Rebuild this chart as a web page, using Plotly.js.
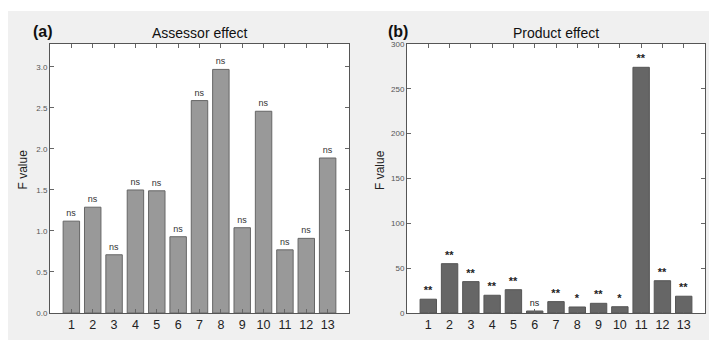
<!DOCTYPE html>
<html><head><meta charset="utf-8">
<script src="https://cdn.plot.ly/plotly-3.0.1.min.js"></script>
<style>html,body{margin:0;padding:0;background:#fff}</style>
</head><body><div id="chart" style="width:709px;height:340px"></div>
<script>
const products = [1,2,3,4,5,6,7,8,9,10,11,12,13];
const tickLabels = ['1','2','3','4','5','6','7','8','9','10','11','12','13'];
const assessorF = [1.12,1.29,0.71,1.50,1.49,0.93,2.59,2.97,1.04,2.46,0.77,0.91,1.89];
const assessorSig = ['ns','ns','ns','ns','ns','ns','ns','ns','ns','ns','ns','ns','ns'];
const productF = [15.4,55,35,19.8,26,2.2,12.7,6.7,10.8,7,274,36,18.7];
const productSig = ['**','**','**','**','**','ns','**','*','**','*','**','**','**'];

const W = 709, H = 340;
const FONT = 'Liberation Sans, Arial, sans-serif';
const px = v => v / W;
const py = v => (H - v) / H;

const productText = productSig.map(s => s === 'ns' ? s : '<b>' + s + '</b>');
const productTextSize = productSig.map(s => s === 'ns' ? 9 : 11);

const traces = [
  {type:'bar', x:products, y:assessorF, text:assessorSig, textposition:'outside',
   textfont:{size:9,color:'#333',family:FONT}, constraintext:'none', cliponaxis:false,
   width:0.77, marker:{color:'#999999', line:{color:'#666666', width:1}},
   xaxis:'x', yaxis:'y', hoverinfo:'skip'},
  {type:'bar', x:products, y:productF, text:productText, textposition:'outside',
   textfont:{size:productTextSize,color:'#222',family:FONT}, constraintext:'none', cliponaxis:false,
   width:0.77, marker:{color:'#666666', line:{color:'#555555', width:1}},
   xaxis:'x2', yaxis:'y2', hoverinfo:'skip'}
];

const xBase = {range:[0,14], tickmode:'array', tickvals:products, ticktext:tickLabels,
  ticks:'inside', ticklen:4, tickcolor:'#666', showline:true, linecolor:'#555', linewidth:1,
  mirror:'ticks', showgrid:false, zeroline:false, fixedrange:true,
  tickfont:{size:12.5,color:'#222',family:FONT}};
const yBase = {ticks:'inside', ticklen:4, tickcolor:'#666', showline:true, linecolor:'#555', linewidth:1,
  mirror:'ticks', showgrid:false, zeroline:false, fixedrange:true,
  tickfont:{size:8,color:'#555',family:FONT}, domain:[py(313), py(44)]};

const layout = {
  width:W, height:H, margin:{l:0,r:0,t:0,b:0},
  paper_bgcolor:'#f0f0f0', plot_bgcolor:'#ffffff', showlegend:false,
  font:{family:FONT},
  xaxis:Object.assign({}, xBase, {domain:[px(50), px(349)], anchor:'y'}),
  yaxis:Object.assign({}, yBase, {range:[0,3.28], dtick:0.5, tickformat:'.1f', anchor:'x'}),
  xaxis2:Object.assign({}, xBase, {domain:[px(407), px(705)], anchor:'y2'}),
  yaxis2:Object.assign({}, yBase, {range:[0,300], dtick:50, anchor:'x2'}),
  shapes:[
    {type:'rect', xref:'paper', yref:'paper', x0:0, x1:1, y0:py(11), y1:1, fillcolor:'#ffffff', line:{width:0}, layer:'below'},
    {type:'rect', xref:'paper', yref:'paper', x0:0, x1:px(8), y0:0, y1:1, fillcolor:'#ffffff', line:{width:0}, layer:'below'}
  ],
  annotations:[
    {text:'Assessor effect', xref:'paper', yref:'paper', x:px(200), y:py(33), xanchor:'center', yanchor:'middle', showarrow:false, font:{size:14,color:'#111',family:FONT}},
    {text:'Product effect', xref:'paper', yref:'paper', x:px(556), y:py(33), xanchor:'center', yanchor:'middle', showarrow:false, font:{size:14,color:'#111',family:FONT}},
    {text:'<b>(a)</b>', xref:'paper', yref:'paper', x:px(43), y:py(31), xanchor:'center', yanchor:'middle', showarrow:false, font:{size:16,color:'#111',family:FONT}},
    {text:'<b>(b)</b>', xref:'paper', yref:'paper', x:px(397.5), y:py(31), xanchor:'center', yanchor:'middle', showarrow:false, font:{size:16,color:'#111',family:FONT}},
    {text:'F value', xref:'paper', yref:'paper', x:px(22.5), y:py(170), xanchor:'center', yanchor:'middle', textangle:-90, showarrow:false, font:{size:12,color:'#222',family:FONT}},
    {text:'F value', xref:'paper', yref:'paper', x:px(380), y:py(170), xanchor:'center', yanchor:'middle', textangle:-90, showarrow:false, font:{size:12,color:'#222',family:FONT}}
  ]
};

Plotly.newPlot('chart', traces, layout, {displayModeBar:false, staticPlot:true});
</script></body></html>
